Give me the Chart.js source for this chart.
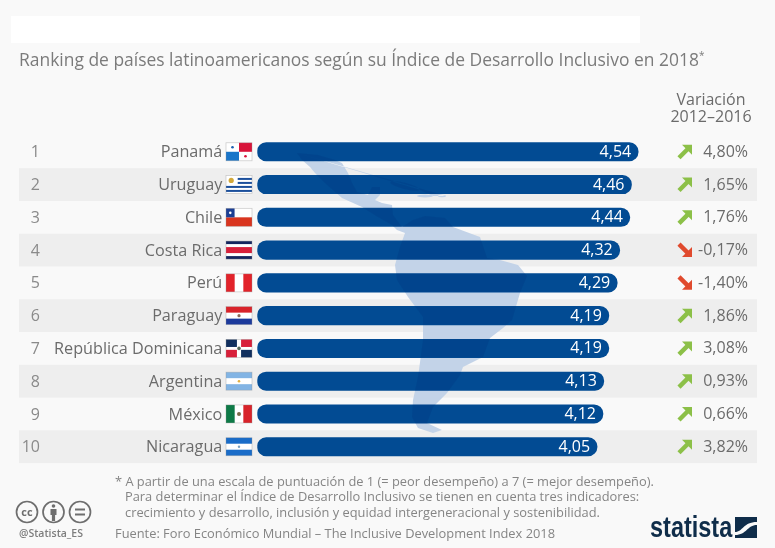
<!DOCTYPE html>
<html lang="es">
<head>
    <meta charset="UTF-8">
    <title>Índice de Desarrollo Inclusivo</title>
    <script src="https://cdn.jsdelivr.net/npm/chart.js"></script>
    <style>
        html, body { margin: 0; padding: 0; background: #f9f9f9; }
        #page { position: relative; width: 775px; height: 548px; overflow: hidden; font-family: "Open Sans", sans-serif; }
        #page div, #page svg { position: absolute; }
        canvas { position: absolute; left: 0; top: 0; }
        #whiteBox { left: 11px; top: 16px; width: 629px; height: 27px; background: #fff; }
        #title { left: 19px; top: 47px; font-size: 17.45px; line-height: 24px; color: #7b7b7b; white-space: nowrap; }
        #title sup { font-size: 10px; line-height: 0; }
        #varHead { left: 651px; width: 120px; top: 91px; text-align: center; font-size: 16px; line-height: 17px; color: #6b6b6b; }
        .note { font-size: 12.85px; line-height: 16px; color: #858585; white-space: nowrap; }
        #handle { left: 19px; top: 526px; font-size: 10.5px; font-weight: 600; color: #7d7d7d; white-space: nowrap; }
        #logo { left: 650px; top: 511px; font-family: "Liberation Sans", sans-serif; font-weight: 700; font-size: 29px; line-height: 32px; color: #0f2d4a; white-space: nowrap; transform: scaleX(0.81); transform-origin: left top; }
    </style>
</head>
<body>
<div id="page">
    <div id="whiteBox"></div>
    <canvas id="rankChart" width="775" height="548"></canvas>
    <div id="title">Ranking de países latinoamericanos según su Índice de Desarrollo Inclusivo en 2018<sup>*</sup></div>
    <div id="varHead">Variación<br>2012–2016</div>
    <div class="note" style="left:115px;top:473px">* A partir de una escala de puntuación de 1 (= peor desempeño) a 7 (= mejor desempeño).</div>
    <div class="note" style="left:125px;top:488px">Para determinar el Índice de Desarrollo Inclusivo se tienen en cuenta tres indicadores:</div>
    <div class="note" style="left:125px;top:504px">crecimiento y desarrollo, inclusión y equidad intergeneracional y sostenibilidad.</div>
    <div class="note" style="left:115px;top:525px">Fuente: Foro Económico Mundial – The Inclusive Development Index 2018</div>
    <svg style="left:14px;top:498px" width="80" height="28" viewBox="0 0 80 28" fill="none" stroke="#6e6e6e" stroke-width="1.7">
        <circle cx="13" cy="14" r="10.5"/>
        <text x="13" y="18" text-anchor="middle" font-family="Open Sans" font-weight="700" font-size="11" fill="#6e6e6e" stroke="none">cc</text>
        <circle cx="39.5" cy="14" r="10.5"/>
        <circle cx="39.5" cy="8" r="1.8" fill="#6e6e6e" stroke="none"/>
        <path d="M36.5 11h6v6h-1.4v6h-3.2v-6h-1.4z" fill="#6e6e6e" stroke="none"/>
        <circle cx="66" cy="14" r="10.5"/>
        <path d="M61 11.5h10M61 16.5h10" stroke-width="2"/>
    </svg>
    <div id="handle">@Statista_ES</div>
    <div id="logo">statista</div>
    <svg style="left:735px;top:517px" width="22" height="21" viewBox="0 0 22 21">
        <rect width="22" height="21" fill="#0f2d4a"/>
        <path d="M0 15C8 15 8 5 22 5V8C12 8 12 18 0 18Z" fill="#f9f9f9"/>
    </svg>
</div>

<script>
    const ranks = [1, 2, 3, 4, 5, 6, 7, 8, 9, 10];
    const countries = ['Panamá', 'Uruguay', 'Chile', 'Costa Rica', 'Perú', 'Paraguay', 'República Dominicana', 'Argentina', 'México', 'Nicaragua'];
    const indexValues = [4.54, 4.46, 4.44, 4.32, 4.29, 4.19, 4.19, 4.13, 4.12, 4.05];
    const variation = [4.80, 1.65, 1.76, -0.17, -1.40, 1.86, 3.08, 0.93, 0.66, 3.82];
    const flagCodes = ['pa', 'uy', 'cl', 'cr', 'pe', 'py', 'do', 'ar', 'mx', 'ni'];

    // silhouette of Latin America behind the bars (page pixels, just decoration)
    const mapOutline = [[297,153],[318,155],[335,160],[342,163],[348,173],[352,183],[357,192],[368,195],[372,187],[380,187],[380,195],[375,200],[382,203],[392,205],[393,215],[402,227],[413,220],[425,216],[445,218],[453,227],[480,237],[487,258],[500,260],[518,265],[527,276],[520,293],[512,320],[503,328],[490,338],[483,357],[463,367],[460,375],[447,393],[433,407],[427,423],[442,430],[433,433],[418,428],[412,417],[413,400],[418,377],[423,340],[423,317],[408,297],[397,280],[395,265],[400,247],[405,233],[397,230],[392,225],[378,217],[362,207],[342,198],[325,183],[315,173],[310,167],[302,160]];

    function mapPath() {
        const p = new Path2D();
        mapOutline.forEach((pt, i) => i ? p.lineTo(pt[0], pt[1]) : p.moveTo(pt[0], pt[1]));
        p.closePath();
        p.ellipse(405, 186, 15, 3, 0.25, 0, Math.PI * 2);
        p.ellipse(425, 196, 8, 1.5, 0, 0, Math.PI * 2);
        p.ellipse(442, 196, 4, 1.2, 0, 0, Math.PI * 2);
        return p;
    }

    function drawFlag(ctx, code, x, y, w, h) {
        const band = (c, fx, fy, fw, fh) => {
            ctx.fillStyle = c;
            ctx.fillRect(x + fx * w, y + fy * h, fw * w, fh * h);
        };
        const dot = (c, fx, fy, r) => {
            ctx.fillStyle = c;
            ctx.beginPath();
            ctx.arc(x + fx * w, y + fy * h, r, 0, Math.PI * 2);
            ctx.fill();
        };
        band('#fff', 0, 0, 1, 1);
        if (code === 'pa') {
            band('#d8143a', .5, 0, .5, .5);
            band('#1a75c9', 0, .5, .5, .5);
            dot('#1a5fb0', .25, .25, 1.3);
            dot('#d8143a', .75, .75, 1.3);
        } else if (code === 'uy') {
            [1, 3, 5, 7].forEach(i => band('#1b4f9c', i < 5 ? .45 : 0, i / 9 + .02, i < 5 ? .55 : 1, 1 / 9));
            dot('#d2a83a', .2, .27, 2.6);
        } else if (code === 'cl') {
            band('#d9351f', 0, .5, 1, .5);
            band('#1c3f94', 0, 0, .33, .5);
            dot('#fff', .165, .25, 1.3);
        } else if (code === 'cr') {
            band('#14265f', 0, 0, 1, 1 / 6);
            band('#d8203a', 0, 1 / 3, 1, 1 / 3);
            band('#14265f', 0, 5 / 6, 1, 1 / 6);
        } else if (code === 'pe') {
            band('#e2232a', 0, 0, 1 / 3, 1);
            band('#e2232a', 2 / 3, 0, 1 / 3, 1);
        } else if (code === 'py') {
            band('#d8232a', 0, 0, 1, 1 / 3);
            band('#1c3a9c', 0, 2 / 3, 1, 1 / 3);
            dot('#8a6a5a', .5, .5, 1.6);
        } else if (code === 'do') {
            band('#12305f', 0, 0, .42, .42);
            band('#d8203a', .58, 0, .42, .42);
            band('#d8203a', 0, .58, .42, .42);
            band('#12305f', .58, .58, .42, .42);
            dot('#5a6a5a', .5, .5, 1.8);
        } else if (code === 'ar') {
            band('#82b4e4', 0, 0, 1, 1 / 3);
            band('#82b4e4', 0, 2 / 3, 1, 1 / 3);
            dot('#e2b040', .5, .5, 1.3);
        } else if (code === 'mx') {
            band('#0e7a47', 0, 0, 1 / 3, 1);
            band('#d8232a', 2 / 3, 0, 1 / 3, 1);
            dot('#7a6a4a', .5, .5, 2);
        } else if (code === 'ni') {
            band('#1a6cc8', 0, 0, 1, 1 / 3);
            band('#1a6cc8', 0, 2 / 3, 1, 1 / 3);
            dot('#7aa0c0', .5, .5, 1.2);
        }
        ctx.strokeStyle = 'rgba(150,150,150,0.5)';
        ctx.lineWidth = 0.7;
        ctx.strokeRect(x, y, w, h);
    }

    function drawArrow(ctx, cx, cy, up) {
        ctx.save();
        ctx.translate(cx, cy);
        ctx.scale(1, up ? 1 : -1);
        ctx.fillStyle = ctx.strokeStyle = up ? '#8cc048' : '#e04a2e';
        ctx.lineWidth = 4.4;
        ctx.beginPath();
        ctx.moveTo(-6, 6);
        ctx.lineTo(3, -3);
        ctx.stroke();
        ctx.beginPath();
        ctx.moveTo(7, -7);
        ctx.lineTo(-3, -7);
        ctx.lineTo(7, 3);
        ctx.closePath();
        ctx.fill();
        ctx.restore();
    }

    const commaFmt = v => v.toFixed(2).replace('.', ',');

    // alternating rows and the map go under the axis labels
    const backdropPlugin = {
        id: 'backdrop',
        beforeDraw(chart) {
            const { ctx, scales } = chart;
            const step = scales.y.getPixelForValue(1) - scales.y.getPixelForValue(0);
            ctx.save();
            ctx.fillStyle = '#eeeeee';
            countries.forEach((c, i) => {
                if (i % 2 === 1) ctx.fillRect(19, scales.y.getPixelForValue(i) - step / 2, 738, step);
            });
            ctx.fillStyle = '#c3d3e8';
            ctx.fill(mapPath());
            ctx.restore();
        }
    };

    const rowDecorPlugin = {
        id: 'rowDecor',
        afterDatasetsDraw(chart) {
            const { ctx, scales } = chart;
            const bars = chart.getDatasetMeta(0).data;
            ctx.save();

            // map shows through the bars a bit darker
            ctx.save();
            ctx.beginPath();
            bars.forEach(b => ctx.roundRect(b.base, b.y - b.height / 2, b.x - b.base, b.height, b.height / 2));
            ctx.clip();
            ctx.fillStyle = 'rgba(0, 40, 110, 0.16)';
            ctx.fill(mapPath());
            ctx.restore();

            ctx.textBaseline = 'middle';
            countries.forEach((c, i) => {
                const y = scales.y.getPixelForValue(i);
                ctx.textAlign = 'right';
                ctx.fillStyle = '#8a8a8a';
                ctx.font = '16px "Open Sans"';
                ctx.fillText(String(ranks[i]), 40, y + 1);
                ctx.fillStyle = '#fff';
                ctx.fillText(commaFmt(indexValues[i]), bars[i].x - 7, y + 0.5);
                ctx.fillStyle = '#6b6b6b';
                ctx.fillText(commaFmt(variation[i]) + '%', 748, y + 0.5);
                drawFlag(ctx, flagCodes[i], 226, y - 9, 26, 18);
                drawArrow(ctx, 685, y, variation[i] >= 0);
            });
            ctx.restore();
        }
    };

    new Chart(document.getElementById('rankChart').getContext('2d'), {
        type: 'bar',
        data: {
            labels: countries,
            datasets: [{
                data: indexValues,
                backgroundColor: '#024b93',
                borderRadius: 9.2,
                borderSkipped: false,
                barThickness: 18.4
            }]
        },
        options: {
            indexAxis: 'y',
            responsive: false,
            animation: false,
            layout: { padding: { top: 135.4, bottom: 84.9, left: 0, right: 98.2 } },
            plugins: { legend: { display: false }, tooltip: { enabled: false } },
            scales: {
                x: { display: false, min: 0, max: 5 },
                y: {
                    border: { display: false },
                    grid: { display: false },
                    afterFit(scale) { scale.width = 257.3; },
                    ticks: {
                        autoSkip: false,
                        padding: 27,
                        labelOffset: 1,
                        color: '#6b6b6b',
                        font: { family: '"Open Sans"', size: 16.2 }
                    }
                }
            }
        },
        plugins: [backdropPlugin, rowDecorPlugin]
    });
</script>
</body>
</html>
